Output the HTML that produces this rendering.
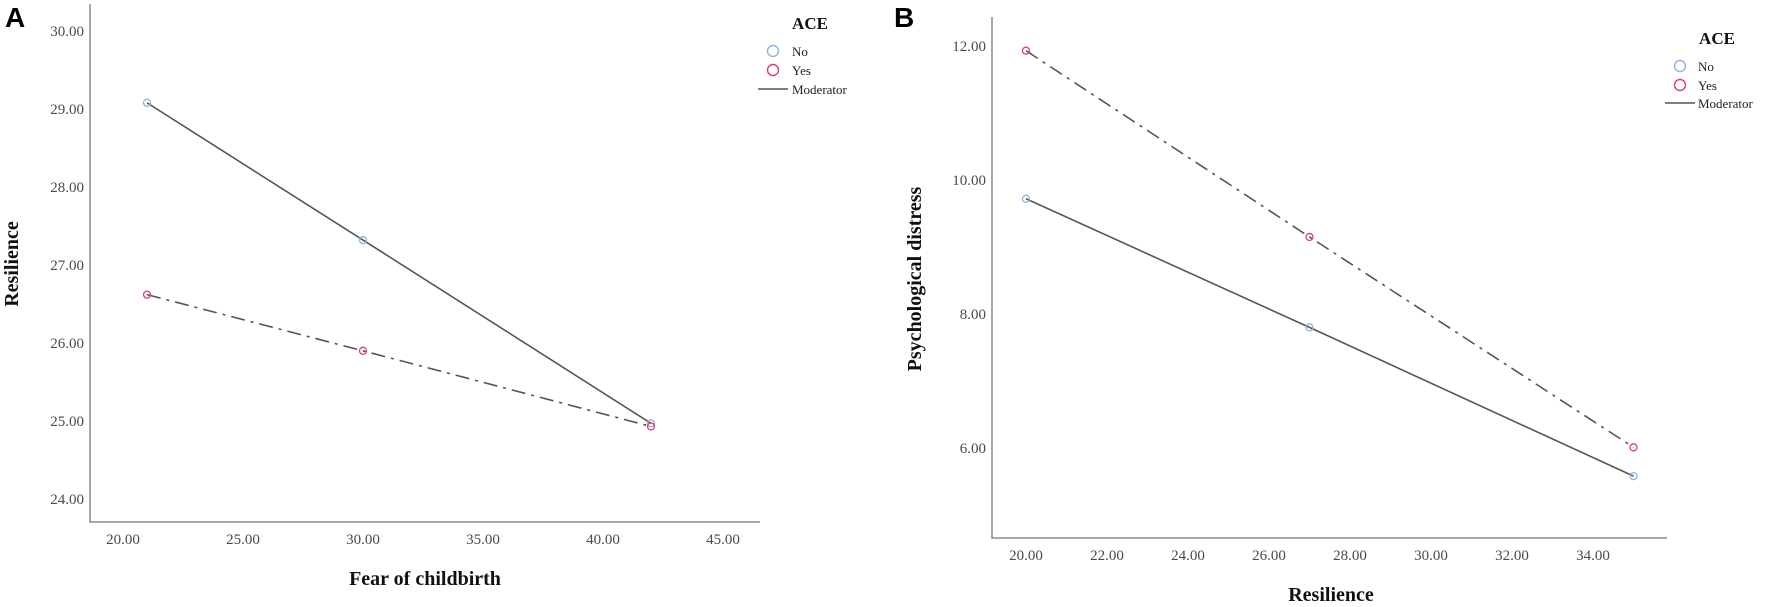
<!DOCTYPE html>
<html><head><meta charset="utf-8"><style>
html,body{margin:0;padding:0;background:#fff;}
svg{display:block;}
text{font-family:"Liberation Serif",serif;}
</style></head><body>
<svg id="fig" width="1772" height="607" viewBox="0 0 1772 607"></svg>
<script>
// Panel A data
const aXValues = [21, 30, 42];
const aNoValues = [29.08, 27.32, 24.97];
const aYesValues = [26.62, 25.9, 24.93];
const aXTicks = ["20.00","25.00","30.00","35.00","40.00","45.00"];
const aYTicks = ["24.00","25.00","26.00","27.00","28.00","29.00","30.00"];
// Panel B data
const bXValues = [20, 27, 35];
const bNoValues = [9.72, 7.8, 5.58];
const bYesValues = [11.93, 9.15, 6.01];
const bXTicks = ["20.00","22.00","24.00","26.00","28.00","30.00","32.00","34.00"];
const bYTicks = ["6.00","8.00","10.00","12.00"];

const NS = "http://www.w3.org/2000/svg";
const svg = document.getElementById("fig");
function mk(tag, attrs, parent, txt){
  const e = document.createElementNS(NS, tag);
  for (const k in attrs) e.setAttribute(k, attrs[k]);
  if (txt !== undefined) e.textContent = txt;
  (parent||svg).appendChild(e);
  return e;
}

function panel(cfg){
  const g = mk("g", {});
  
  
  const sx = v => cfg.x0 + (v - cfg.xv0) * cfg.xs;
  const sy = v => cfg.y0 - (v - cfg.yv0) * cfg.ys;
  // axes
  const ax = mk("path", {d:`M${cfg.axX},${cfg.axTop} L${cfg.axX},${cfg.axBottom} L${cfg.axRight},${cfg.axBottom}`, fill:"none", stroke:"#8a8a8a", "stroke-width":"1.5"}, g);
  
  
  cfg.xTicks.forEach(t => {
    const e = mk("text", {x:sx(parseFloat(t)), y:cfg.axBottom+22, "text-anchor":"middle", "font-size":"15", fill:"#4a4a4a"}, g, t);
    
    
  });
  cfg.yTicks.forEach(t => {
    const e = mk("text", {x:cfg.axX-6, y:sy(parseFloat(t))+5, "text-anchor":"end", "font-size":"15", fill:"#4a4a4a"}, g, t);
    
    
  });
  // lines
  const ptsNo = cfg.xv.map((x,i)=>`${sx(x)},${sy(cfg.no[i])}`).join(" ");
  const ptsYes = cfg.xv.map((x,i)=>`${sx(x)},${sy(cfg.yes[i])}`).join(" ");
  const lNo = mk("polyline", {points:ptsNo, fill:"none", stroke:"#555", "stroke-width":"1.6"}, g);
  
  
  const lYes = mk("polyline", {points:ptsYes, fill:"none", stroke:"#555", "stroke-width":"1.6", "stroke-dasharray":"14 6 3 6"}, g);
  
  
  cfg.xv.forEach((x,i)=>{
    const c1 = mk("circle", {cx:sx(x), cy:sy(cfg.no[i]), r:3.5, fill:"none", stroke:"#8fb3dd", "stroke-width":"1.3"}, g);
    
    
    const c2 = mk("circle", {cx:sx(x), cy:sy(cfg.yes[i]), r:3.5, fill:"none", stroke:"#d9406a", "stroke-width":"1.3"}, g);
    
    
  });
  // titles
  const xt = mk("text", {x:cfg.xtX, y:cfg.xtY, "text-anchor":"middle", "font-size":"20", "font-weight":"bold", fill:"#111"}, g, cfg.xTitle);
  
  
  const yt = mk("text", {x:0, y:0, transform:`translate(${cfg.ytX},${cfg.ytY}) rotate(-90)`, "text-anchor":"middle", "font-size":"20", "font-weight":"bold", fill:"#111"}, g, cfg.yTitle);
  
  
  const pl = mk("text", {x:cfg.lblX, y:27, "font-size":"28", "font-weight":"bold", fill:"#000", style:'font-family:"Liberation Sans",sans-serif'}, g, cfg.letter);
  
  
  // legend
  const L = cfg.leg;
  const lg = mk("g", {}, g);
  
  
  mk("text", {x:L.tx, y:L.ty, "text-anchor":"middle", "font-size":"17", "font-weight":"bold", fill:"#111"}, lg, "ACE");
  mk("circle", {cx:L.cx, cy:L.y1, r:5.5, fill:"none", stroke:"#8fb3dd", "stroke-width":"1.4"}, lg);
  mk("circle", {cx:L.cx, cy:L.y2, r:5.5, fill:"none", stroke:"#d9406a", "stroke-width":"1.4"}, lg);
  mk("line", {x1:L.lx1, x2:L.lx2, y1:L.y3, y2:L.y3, stroke:"#555", "stroke-width":"1.6"}, lg);
  mk("text", {x:L.textX, y:L.y1+5, "font-size":"13", fill:"#222"}, lg, "No");
  mk("text", {x:L.textX, y:L.y2+5, "font-size":"13", fill:"#222"}, lg, "Yes");
  mk("text", {x:L.textX, y:L.y3+5, "font-size":"13", fill:"#222"}, lg, "Moderator");
}

panel({id:"a", letter:"A", lblX:5,
  x0:123, xv0:20, xs:24, y0:499, yv0:24, ys:78,
  axX:90, axTop:4, axBottom:522, axRight:760,
  xTicks:aXTicks, yTicks:aYTicks, xv:aXValues, no:aNoValues, yes:aYesValues,
  xTitle:"Fear of childbirth", xtX:425, xtY:585,
  yTitle:"Resilience", ytX:18, ytY:264,
  leg:{tx:810, ty:29, cx:773, y1:51, y2:70, y3:89, lx1:758, lx2:788, textX:792}});

panel({id:"b", letter:"B", lblX:894,
  x0:1026, xv0:20, xs:40.5, y0:448, yv0:6, ys:67,
  axX:992, axTop:17, axBottom:538, axRight:1667,
  xTicks:bXTicks, yTicks:bYTicks, xv:bXValues, no:bNoValues, yes:bYesValues,
  xTitle:"Resilience", xtX:1331, xtY:601,
  yTitle:"Psychological distress", ytX:921, ytY:279,
  leg:{tx:1717, ty:44, cx:1680, y1:66, y2:85, y3:103, lx1:1665, lx2:1695, textX:1698}});
</script>
</body></html>
